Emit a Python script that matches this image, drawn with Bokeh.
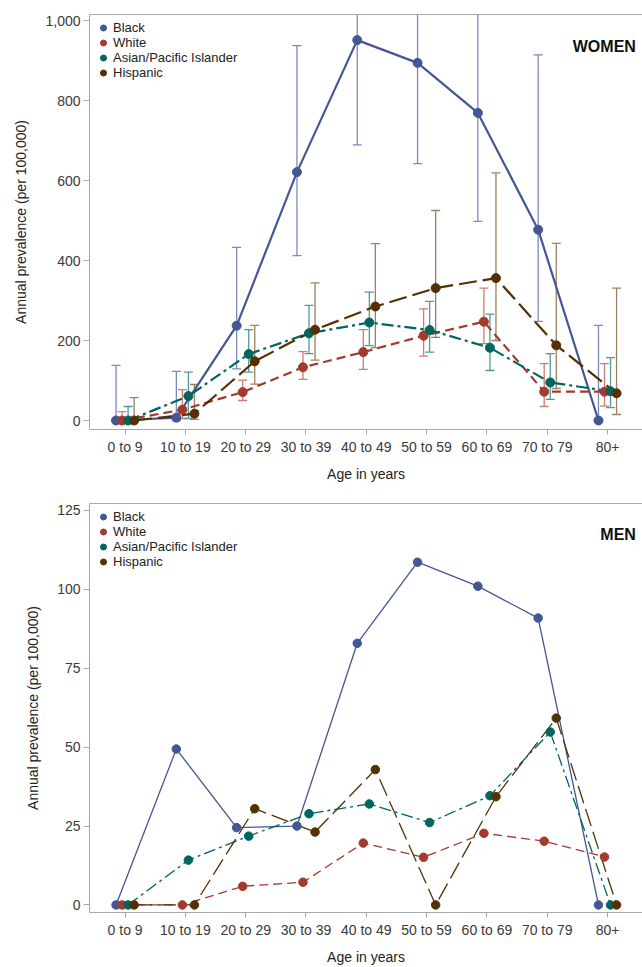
from bokeh.plotting import figure
from bokeh.models import (ColumnDataSource, FixedTicker, NumeralTickFormatter, Range1d,
                          Legend, LegendItem, Label, LinearAxis)
from bokeh.layouts import column
from bokeh.embed import file_html
from bokeh.resources import INLINE

# ---------------- data ----------------
age_groups = ["0 to 9", "10 to 19", "20 to 29", "30 to 39", "40 to 49",
              "50 to 59", "60 to 69", "70 to 79", "80+"]
groups = ["Black", "White", "Asian/Pacific Islander", "Hispanic"]

women_black = [0, 7, 237, 621, 951, 894, 769, 477, 0]
women_black_lo = [0, 0, 129, 412, 689, 642, 498, 248, 0]
women_black_hi = [138, 123, 433, 937, 1250, 1200, 1150, 914, 238]

women_white = [0, 27, 71, 133, 171, 212, 247, 72, 72]
women_white_lo = [0, 5, 50, 103, 128, 161, 192, 35, 36]
women_white_hi = [22, 77, 101, 172, 227, 279, 331, 142, 142]

women_api = [0, 61, 166, 218, 245, 226, 182, 95, 73]
women_api_lo = [0, 5, 121, 167, 187, 171, 125, 53, 32]
women_api_hi = [35, 121, 227, 288, 321, 298, 266, 167, 157]

women_hisp = [0, 17, 148, 227, 285, 331, 356, 188, 68]
women_hisp_lo = [0, 3, 91, 151, 182, 208, 200, 80, 15]
women_hisp_hi = [57, 90, 238, 344, 442, 525, 619, 443, 331]

men_black = [0, 49.4, 24.5, 25.0, 82.9, 108.6, 101.0, 90.9, 0]
men_white = [0, 0, 5.9, 7.2, 19.6, 15.1, 22.7, 20.2, 15.2]
men_api = [0, 14.2, 21.8, 28.9, 32.0, 26.1, 34.6, 54.8, 0]
men_hisp = [0, 0, 30.5, 23.1, 42.9, 0, 34.3, 59.2, 0]

women_ticks = [0, 200, 400, 600, 800, 1000]
men_ticks = [0, 25, 50, 75, 100, 125]

# ---------------- style ----------------
colors = ["#445694", "#A23A2E", "#01665E", "#543005"]
err_colors = ["#7B88BC", "#CC7D72", "#4E9C94", "#9C8060"]
dashes = ["solid", "9 5", "12 4 3 4", "18 6"]
offsets = [-0.15, -0.05, 0.05, 0.15]
FONT = "Liberation Sans"
AXIS_GREY = "#A8A8A8"


def base_fig(height, b_left, b_top, b_bottom, yr, yticks, xr):
    p = figure(width=642, height=height, output_backend="svg", toolbar_location=None,
               x_range=Range1d(*xr), y_range=Range1d(*yr),
               min_border_left=b_left, min_border_right=0,
               min_border_top=b_top, min_border_bottom=b_bottom)
    p.outline_line_color = None
    p.xgrid.grid_line_color = None
    p.ygrid.grid_line_color = None
    p.background_fill_color = "white"
    p.border_fill_color = "white"

    p.xaxis.ticker = FixedTicker(ticks=list(range(len(age_groups))))
    p.xaxis.major_label_overrides = {i: g for i, g in enumerate(age_groups)}
    p.yaxis.ticker = FixedTicker(ticks=yticks)
    p.yaxis.formatter = NumeralTickFormatter(format="0,0")
    for ax in (p.xaxis[0], p.yaxis[0]):
        ax.axis_line_color = AXIS_GREY
        ax.major_tick_line_color = AXIS_GREY
        ax.minor_tick_line_color = None
        ax.major_tick_in = 0
        ax.major_label_text_font = FONT
        ax.major_label_text_font_size = "14px"
        ax.major_label_text_color = "#3a3a3a"
        ax.axis_label_text_font = FONT
        ax.axis_label_text_font_size = "14px"
        ax.axis_label_text_font_style = "normal"
        ax.axis_label_text_color = "#222222"
    p.xaxis.major_tick_out = 5
    p.xaxis.major_label_standoff = 4
    p.xaxis.axis_label = "Age in years"
    p.xaxis.axis_label_standoff = 8
    p.yaxis.major_tick_out = 6
    p.yaxis.major_label_standoff = 3
    p.yaxis.axis_label = "Annual prevalence (per 100,000)"
    p.yaxis.axis_label_standoff = 13

    top = LinearAxis(ticker=FixedTicker(ticks=[]), major_tick_out=0, major_tick_in=0,
                     minor_tick_out=0, minor_tick_in=0, major_label_standoff=0,
                     axis_line_color=AXIS_GREY, major_label_text_font_size="0px")
    p.add_layout(top, "above")
    return p


def add_legend(p, renderers):
    items = [LegendItem(label=g, renderers=[r]) for g, r in zip(groups, renderers)]
    leg = Legend(items=items, location="top_left", margin=6, padding=10, spacing=0,
                 glyph_width=16, glyph_height=15, label_height=15, label_standoff=2,
                 label_text_font=FONT, label_text_font_size="13px",
                 label_text_color="#222222", background_fill_alpha=0,
                 border_line_color=None)
    p.add_layout(leg)


def draw(p, series, lows, highs, lw, msize):
    xs_all = [[i + off for i in range(len(age_groups))] for off in offsets]
    if lows is not None:
        for xs, lo, hi, ec in zip(xs_all, lows, highs, err_colors):
            src = ColumnDataSource(dict(x=xs, lo=lo, hi=hi))
            p.segment(x0="x", y0="lo", x1="x", y1="hi", source=src,
                      line_color=ec, line_width=1.3)
            p.scatter("x", "hi", source=src, marker="dash", size=9,
                      line_color=ec, line_width=1.3)
            p.scatter("x", "lo", source=src, marker="dash", size=9,
                      line_color=ec, line_width=1.3)
    srcs = [ColumnDataSource(dict(x=xs, y=ys)) for xs, ys in zip(xs_all, series)]
    for src, c, d in zip(srcs, colors, dashes):
        p.line("x", "y", source=src, line_color=c, line_width=lw, line_dash=d)
    rends = []
    for src, c in zip(srcs, colors):
        rends.append(p.scatter("x", "y", source=src, size=msize,
                               fill_color=c, line_color=c))
    return rends


# ---------------- women ----------------
pw = base_fig(490, 89, 14, 61, (-22.5, 1015), women_ticks, (-0.59, 8.58))
rw = draw(pw,
          [women_black, women_white, women_api, women_hisp],
          [women_black_lo, women_white_lo, women_api_lo, women_hisp_lo],
          [women_black_hi, women_white_hi, women_api_hi, women_hisp_hi],
          2.2, 9)
add_legend(pw, rw)
pw.add_layout(Label(x=8.47, y=935, text="WOMEN", text_align="right",
                    text_baseline="middle", text_font=FONT, text_font_size="16px",
                    text_font_style="bold", text_color="#111111"))

# ---------------- men ----------------
pm = base_fig(477, 78, 13, 46, (-2.4, 127.2), men_ticks, (-0.59, 8.58))
rm = draw(pm, [men_black, men_white, men_api, men_hisp], None, None, 1.3, 8.5)
add_legend(pm, rm)
pm.add_layout(Label(x=8.47, y=117.3, text="MEN", text_align="right",
                    text_baseline="middle", text_font=FONT, text_font_size="16px",
                    text_font_style="bold", text_color="#111111"))

layout = column(pw, pm, spacing=0)
open("out.html", "w").write(file_html(layout, INLINE))
